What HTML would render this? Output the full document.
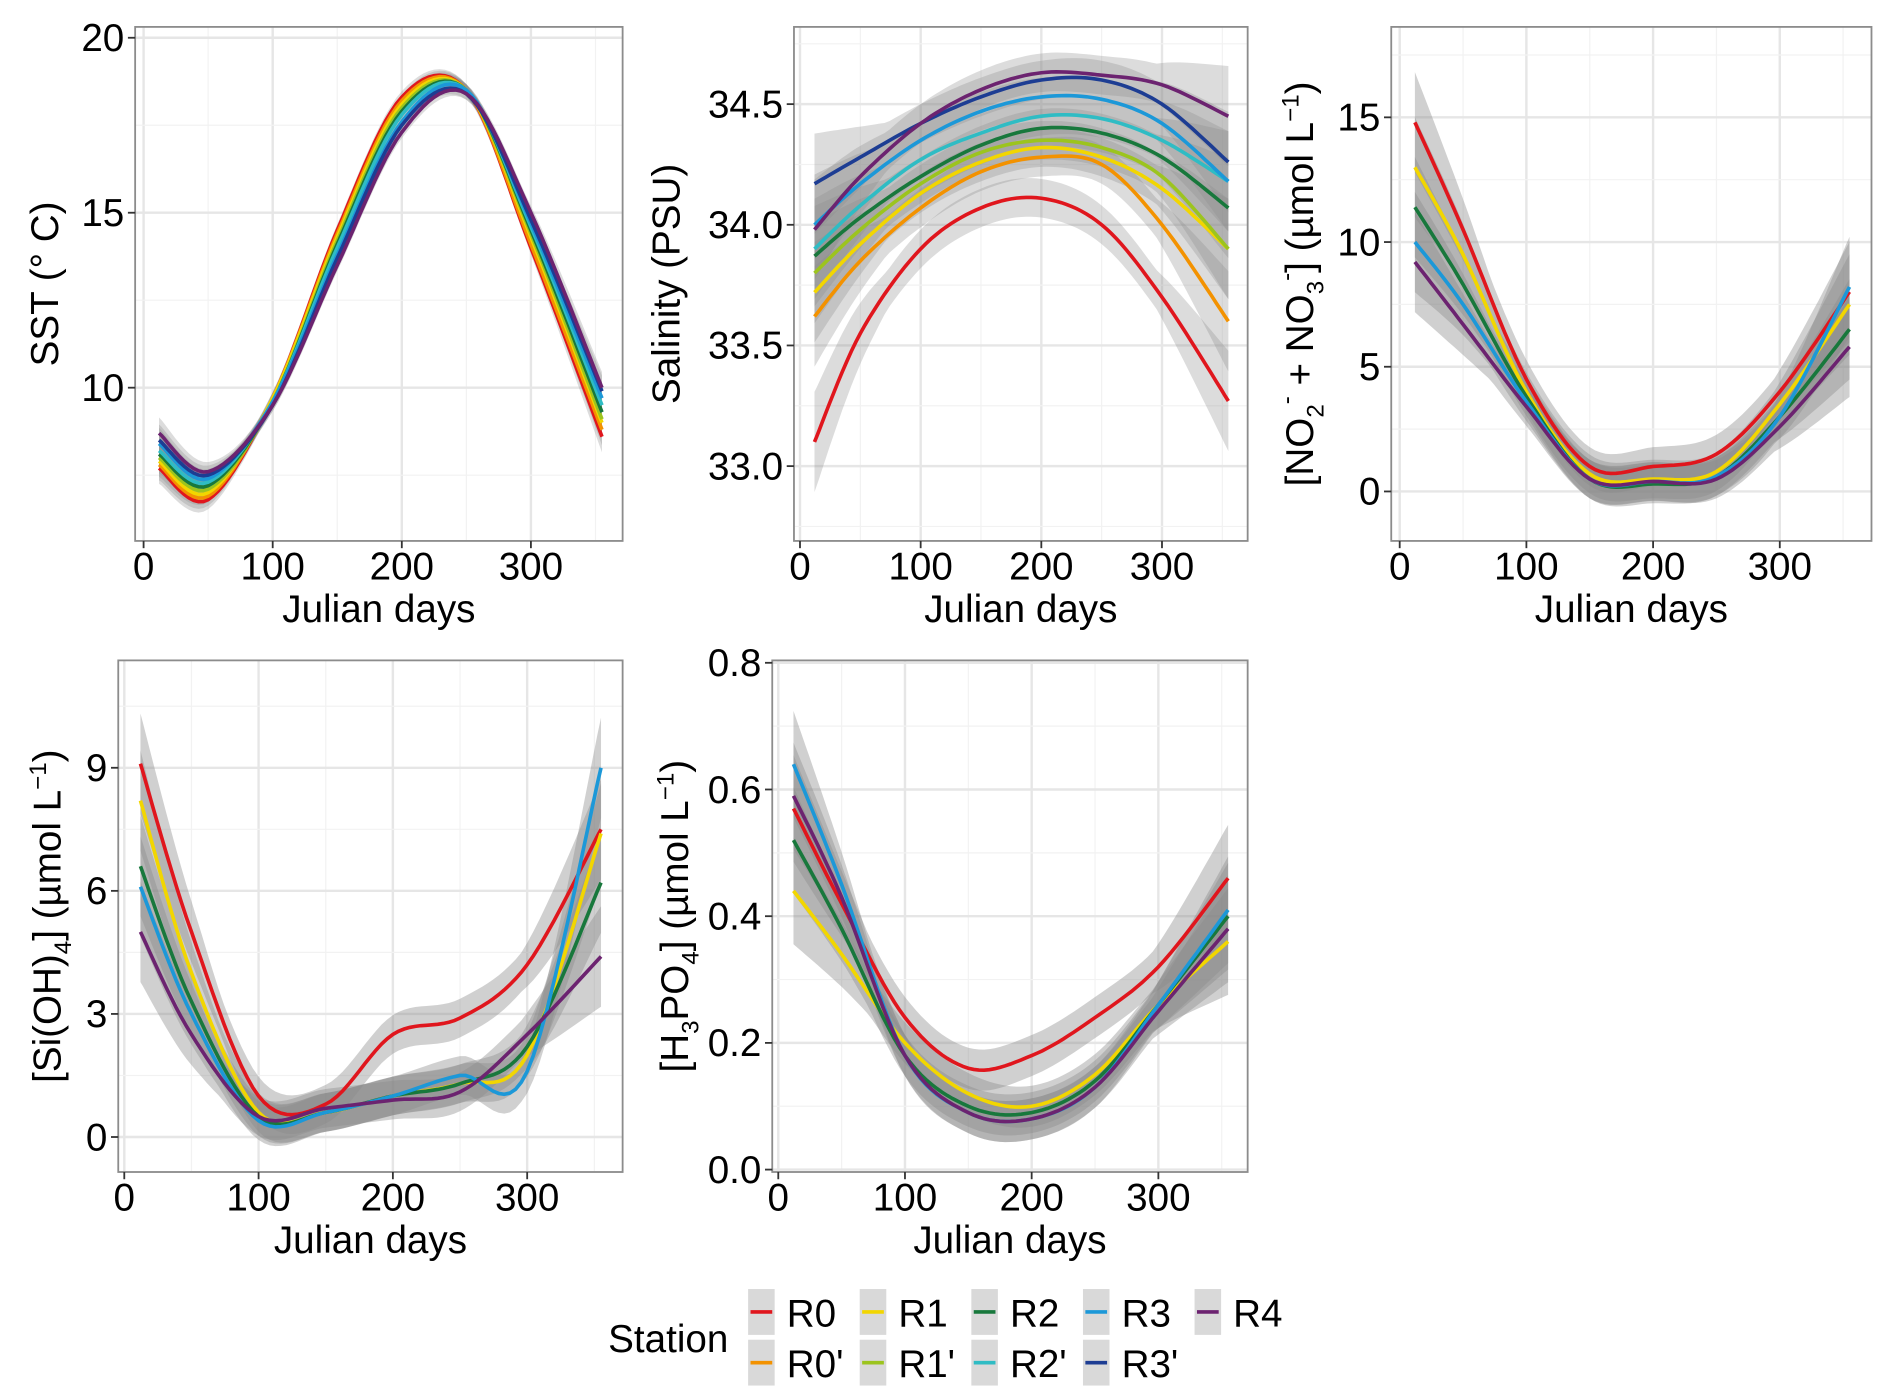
<!DOCTYPE html>
<html><head><meta charset="utf-8"><style>
html,body{margin:0;padding:0;background:#fff;}
svg{display:block;font-family:"Liberation Sans",Arial,sans-serif;}
</style></head><body>
<svg id="fig" width="1892" height="1398" viewBox="0 0 1568 1158"></svg>
<script>
const days = [12, 50, 100, 150, 200, 250, 300, 355];
const stations = ["R0","R0'","R1","R1'","R2","R2'","R3","R3'","R4"];
const colors = ["#e0161d","#f39200","#f2d600","#9cc41e","#18783c","#2fbcc4","#1c98d8","#1d3d93","#6c2370"];
// SST
const sstR0  = [7.7,6.8,9.7,14.5,18.3,18.5,14.0,8.6];
const sstR0p = [7.8,6.9,9.7,14.4,18.2,18.5,14.1,8.8];
const sstR1  = [7.9,7.0,9.7,14.3,18.1,18.5,14.3,9.0];
const sstR1p = [8.0,7.1,9.6,14.2,18.0,18.5,14.4,9.1];
const sstR2  = [8.1,7.2,9.6,14.1,17.9,18.5,14.5,9.3];
const sstR2p = [8.2,7.3,9.6,14.0,17.8,18.5,14.6,9.5];
const sstR3  = [8.4,7.4,9.6,13.8,17.6,18.5,14.7,9.7];
const sstR3p = [8.5,7.5,9.5,13.7,17.5,18.4,14.8,9.9];
const sstR4  = [8.7,7.6,9.5,13.5,17.3,18.4,15.0,10.0];
// Salinity
const salR0  = [33.1,33.55,33.9,34.07,34.11,34.0,33.7,33.27];
const salR0p = [33.62,33.85,34.07,34.22,34.28,34.25,34.0,33.6];
const salR1  = [33.72,33.92,34.13,34.26,34.32,34.28,34.15,33.9];
const salR1p = [33.8,33.98,34.17,34.3,34.35,34.32,34.2,33.9];
const salR2  = [33.87,34.03,34.2,34.33,34.4,34.38,34.28,34.07];
const salR2p = [33.9,34.08,34.27,34.38,34.45,34.44,34.35,34.18];
const salR3  = [34.0,34.17,34.35,34.47,34.53,34.52,34.42,34.18];
const salR3p = [34.17,34.28,34.42,34.53,34.6,34.6,34.5,34.26];
const salR4  = [33.98,34.2,34.42,34.56,34.63,34.62,34.58,34.45];
// Nitrate + nitrite (R0,R1,R2,R3,R4)
const nitR0  = [14.8,10.5,4.5,1.0,1.0,1.5,4.0,8.0];
const nitR1  = [13.0,9.5,4.0,0.7,0.5,0.8,3.5,7.5];
const nitR2  = [11.4,8.3,3.8,0.5,0.3,0.6,3.0,6.5];
const nitR3  = [10.0,7.5,3.6,0.5,0.4,0.6,3.0,8.2];
const nitR4  = [9.2,6.7,3.4,0.5,0.4,0.5,2.6,5.8];
// Silicate
const silR0  = [9.1,5.0,1.0,0.8,2.5,2.9,4.2,7.5];
const silR1  = [8.2,4.0,0.6,0.6,1.0,1.3,2.0,7.4];
const silR2  = [6.6,3.3,0.5,0.6,1.0,1.3,2.2,6.2];
const silR3  = [6.1,3.0,0.4,0.6,1.0,1.5,1.6,9.0];
const silR4  = [5.0,2.5,0.5,0.7,0.9,1.1,2.5,4.4];
// Phosphate
const phoR0  = [0.57,0.42,0.24,0.16,0.18,0.24,0.32,0.46];
const phoR1  = [0.44,0.34,0.2,0.12,0.1,0.15,0.26,0.36];
const phoR2  = [0.52,0.38,0.18,0.1,0.09,0.14,0.26,0.40];
const phoR3  = [0.64,0.45,0.18,0.09,0.08,0.13,0.26,0.41];
const phoR4  = [0.59,0.43,0.18,0.09,0.08,0.13,0.25,0.38];

const xTicks = [0,100,200,300];
const sstTicks = [10,15,20], salTicks = [33.0,33.5,34.0,34.5], nitTicks=[0,5,10,15], silTicks=[0,3,6,9], phoTicks=[0.0,0.2,0.4,0.6,0.8];
const allIdx=[0,1,2,3,4,5,6,7,8], mainIdx=[0,2,4,6,8];

const NS="http://www.w3.org/2000/svg";
const svg=document.getElementById('fig');
function el(tag,attrs,parent){const e=document.createElementNS(NS,tag);for(const k in attrs)e.setAttribute(k,attrs[k]);(parent||svg).appendChild(e);return e;}

function smoothPts(xs,ys){
  const out=[];const n=xs.length;
  for(let i=0;i<n-1;i++){
    const p0=[xs[Math.max(i-1,0)],ys[Math.max(i-1,0)]],p1=[xs[i],ys[i]],p2=[xs[i+1],ys[i+1]],p3=[xs[Math.min(i+2,n-1)],ys[Math.min(i+2,n-1)]];
    for(let s=0;s<12;s++){const t=s/12,t2=t*t,t3=t2*t;
      const f=(a,b,c,d)=>0.5*((2*b)+(-a+c)*t+(2*a-5*b+4*c-d)*t2+(-a+3*b-3*c+d)*t3);
      out.push([f(p0[0],p1[0],p2[0],p3[0]),f(p0[1],p1[1],p2[1],p3[1])]);}
  }
  out.push([xs[n-1],ys[n-1]]);return out;
}

function panel(o){
  const g=el('g',{});
  
  
  const X=v=>o.x0+(v-o.xmin)*o.xs, Y=v=>o.y0-(v-o.ymin)*o.ys;
  el('rect',{x:o.L,y:o.T,width:o.R-o.L,height:o.B-o.T,fill:'#fff'},g);
  xTicks.forEach(t=>{el('line',{x1:X(t),x2:X(t),y1:o.T,y2:o.B,stroke:'#e6e6e6','stroke-width':2},g);
    el('line',{x1:X(t+50),x2:X(t+50),y1:o.T,y2:o.B,stroke:'#f2f2f2','stroke-width':1},g);});
  o.yt.forEach(t=>{el('line',{x1:o.L,x2:o.R,y1:Y(t),y2:Y(t),stroke:'#e6e6e6','stroke-width':2},g);
    const h=t+(o.step/2); if(Y(h)>o.T) el('line',{x1:o.L,x2:o.R,y1:Y(h),y2:Y(h),stroke:'#f2f2f2','stroke-width':1},g);});
  {const h=o.yt[0]-o.step/2;if(Y(h)<o.B)el('line',{x1:o.L,x2:o.R,y1:Y(h),y2:Y(h),stroke:'#f2f2f2','stroke-width':1},g);}
  const ef=p=>{const d=Math.min(Math.abs(p[0]-X(12)),Math.abs(p[0]-X(355)));return 1+1.6*Math.max(0,1-d/(60*o.xs));};
  o.series.forEach((s,k)=>{
    const i=o.idx[k];
    const pts=smoothPts(days.map(X),s.map(Y));
    const up=pts.map(p=>[p[0],p[1]-o.band*ef(p)]);
    const dn=pts.map(p=>[p[0],p[1]+o.band*ef(p)]).reverse();
    const b=el('path',{d:'M'+up.concat(dn).map(p=>p[0].toFixed(1)+','+p[1].toFixed(1)).join('L')+'Z',fill:'#8a8a8a','fill-opacity':o.op},g);
    
    
  });
  o.series.forEach((s,k)=>{
    const i=o.idx[k];
    const pts=smoothPts(days.map(X),s.map(Y));
    const l=el('path',{d:'M'+pts.map(p=>p[0].toFixed(1)+','+p[1].toFixed(1)).join('L'),fill:'none',stroke:colors[i],'stroke-width':3},g);
    
    
  });
  el('rect',{x:o.L,y:o.T,width:o.R-o.L,height:o.B-o.T,fill:'none',stroke:'#8c8c8c','stroke-width':1.5},g);
  xTicks.forEach(t=>{el('line',{x1:X(t),x2:X(t),y1:o.B,y2:o.B+6,stroke:'#333','stroke-width':1.5},g);
    const tx=el('text',{x:X(t),y:o.B+32,'text-anchor':'middle','font-size':32,fill:'#000'},g);tx.textContent=t;});
  o.yt.forEach(t=>{el('line',{x1:o.L-6,x2:o.L,y1:Y(t),y2:Y(t),stroke:'#333','stroke-width':1.5},g);
    const tx=el('text',{x:o.L-9,y:Y(t)+11,'text-anchor':'end','font-size':32,fill:'#000'},g);tx.textContent=o.fmt(t);});
  const xl=el('text',{x:(o.L+o.R)/2,y:o.B+67,'text-anchor':'middle','font-size':32,fill:'#000'},g);xl.textContent='Julian days';
  
  
  const yl=el('text',{transform:`translate(${o.ylx},${(o.T+o.B)/2}) rotate(-90)`,'text-anchor':'middle','font-size':32,fill:'#000'},g);
  yl.innerHTML=o.ylab;
  
  
}
const f0=t=>String(t), f1=t=>t.toFixed(1);
panel({name:'sst-panel',L:112,R:516,T:22,B:448,x0:119,xmin:0,xs:1.07,y0:321,ymin:10,ys:29,yt:sstTicks,step:5,fmt:f0,band:5,op:0.3,ylx:48,idx:allIdx,
  series:[sstR0,sstR0p,sstR1,sstR1p,sstR2,sstR2p,sstR3,sstR3p,sstR4],ylab:'SST (° C)'});
panel({name:'salinity-panel',L:658,R:1034,T:22,B:448,x0:663,xmin:0,xs:1.0,y0:386,ymin:33.0,ys:200,yt:salTicks,step:0.5,fmt:f1,band:16,op:0.3,ylx:563,idx:allIdx,
  series:[salR0,salR0p,salR1,salR1p,salR2,salR2p,salR3,salR3p,salR4],ylab:'Salinity (PSU)'});
panel({name:'nitrate-panel',L:1153,R:1551,T:22,B:448,x0:1160,xmin:0,xs:1.05,y0:407,ymin:0,ys:20.67,yt:nitTicks,step:5,fmt:f0,band:16,op:0.4,ylx:1088,idx:mainIdx,
  series:[nitR0,nitR1,nitR2,nitR3,nitR4],
  ylab:'[NO<tspan font-size="20" dy="9">2</tspan><tspan font-size="20" dy="-24">-</tspan><tspan dy="15"> + NO</tspan><tspan font-size="20" dy="9">3</tspan><tspan font-size="20" dy="-24">-</tspan><tspan dy="15">] (µmol L</tspan><tspan font-size="20" dy="-12">−1</tspan><tspan dy="12">)</tspan>'});
panel({name:'silicate-panel',L:98,R:516,T:547,B:971,x0:103,xmin:0,xs:1.113,y0:942,ymin:0,ys:34,yt:silTicks,step:3,fmt:f0,band:16,op:0.4,ylx:50,idx:mainIdx,
  series:[silR0,silR1,silR2,silR3,silR4],
  ylab:'[Si(OH)<tspan font-size="20" dy="9">4</tspan><tspan dy="-9">] (µmol L</tspan><tspan font-size="20" dy="-12">−1</tspan><tspan dy="12">)</tspan>'});
panel({name:'phosphate-panel',L:640,R:1034,T:547,B:971,x0:645,xmin:0,xs:1.05,y0:969,ymin:0,ys:525,yt:phoTicks,step:0.2,fmt:f1,band:17,op:0.4,ylx:570,idx:mainIdx,
  series:[phoR0,phoR1,phoR2,phoR3,phoR4],
  ylab:'[H<tspan font-size="20" dy="9">3</tspan><tspan dy="-9">PO</tspan><tspan font-size="20" dy="9">4</tspan><tspan dy="-9">] (µmol L</tspan><tspan font-size="20" dy="-12">−1</tspan><tspan dy="12">)</tspan>'});

const lg=el('g',{});


const st=el('text',{x:504,y:1120,'font-size':32,fill:'#000'},lg);st.textContent='Station';
const order=[[0,2,4,6,8],[1,3,5,7]];
order.forEach((row,r)=>row.forEach((si,c)=>{
  const x=620+c*92.5,y=1068+r*42;
  const eg=el('g',{},lg);
  
  
  el('rect',{x:x,y:y,width:22,height:38,fill:'#d9d9d9'},eg);
  el('line',{x1:x+2,x2:x+20,y1:y+19,y2:y+19,stroke:colors[si],'stroke-width':3},eg);
  const t=el('text',{x:x+32,y:y+31,'font-size':32,fill:'#000'},eg);t.textContent=stations[si];
}));
</script>
</body></html>
